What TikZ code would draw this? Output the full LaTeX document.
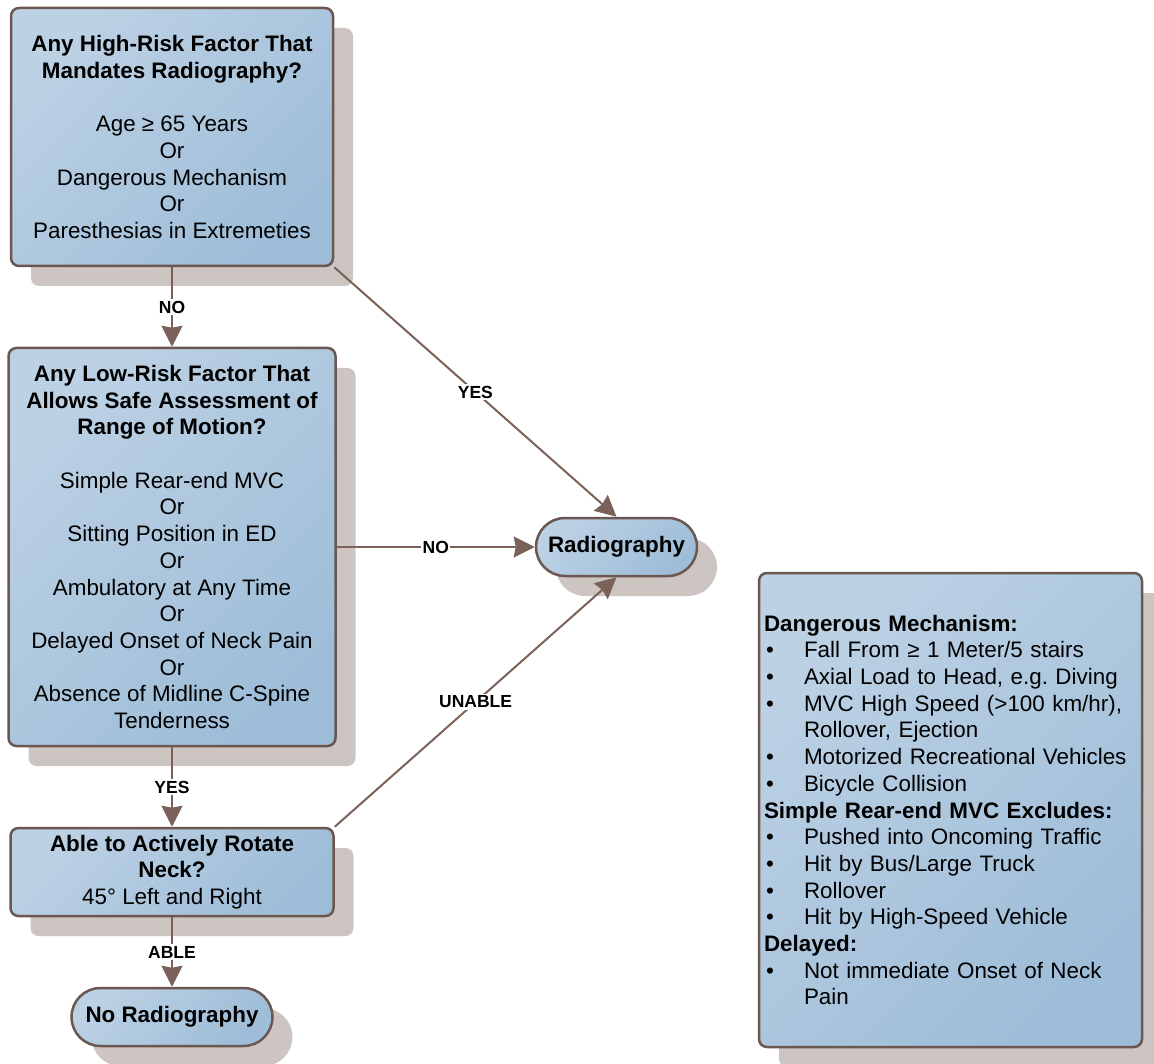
\documentclass[tikz,border=0pt]{standalone}
\usepackage{fontspec}
\setmainfont{Liberation Sans}
\usetikzlibrary{arrows.meta,shadows}
\definecolor{boxlight}{HTML}{BCD1E4}
\definecolor{boxdark}{HTML}{9EBDD8}
\definecolor{bordc}{HTML}{6B574F}
\definecolor{linec}{HTML}{7A6259}
\definecolor{shadc}{HTML}{CDC5C1}
\newcommand\bitem[1]{\makebox[40pt][l]{\hspace{2pt}•}#1}
\frenchspacing
\begin{document}
\begin{tikzpicture}[x=1pt,y=-1pt,
  base/.style={draw=bordc, line width=2.5pt, top color=boxlight, bottom color=boxdark, shading angle=45,
    drop shadow={shadow xshift=20pt, shadow yshift=-20pt, fill=shadc, opacity=1},
    font=\fontsize{22.4}{26.7}\selectfont, align=center, inner sep=4pt, text=black},
  boxq/.style={base, rectangle, rounded corners=8pt},
  pill/.style={base, rectangle, rounded corners=29pt, minimum height=58pt, font=\fontsize{22.4}{26.7}\selectfont\bfseries},
  conn/.style={draw=linec, line width=2pt, -{Stealth[length=21pt,width=21pt,inset=2pt]}},
  lab/.style={fill=white, inner sep=1.5pt, font=\fontsize{17.5}{20}\selectfont\bfseries, text=black}]
\useasboundingbox (0,0) rectangle (1154,1064);

\node[boxq, minimum width=322pt, minimum height=258pt] (b1) at (172,137)
 {\textbf{Any High-Risk Factor That}\\ \textbf{Mandates Radiography?}\\[26.7pt]
  Age ≥ 65 Years\\ Or\\ Dangerous Mechanism\\ Or\\ Paresthesias in Extremeties};

\node[boxq, minimum width=327pt, minimum height=398pt] (b2) at (172,547)
 {\textbf{Any Low-Risk Factor That}\\ \textbf{Allows Safe Assessment of}\\ \textbf{Range of Motion?}\\[26.7pt]
  Simple Rear-end MVC\\ Or\\ Sitting Position in ED\\ Or\\ Ambulatory at Any Time\\ Or\\
  Delayed Onset of Neck Pain\\ Or\\ Absence of Midline C-Spine\\ Tenderness};

\node[boxq, minimum width=323pt, minimum height=88pt] (b3) at (172,872)
 {\textbf{Able to Actively Rotate}\\ \textbf{Neck?}\\ 45° Left and Right};

\node[pill, minimum width=201pt] (norad) at (172,1017) {No Radiography};

\node[pill, minimum width=161pt] (rad) at (616.5,547) {Radiography};

\node[boxq, minimum width=383pt, minimum height=474pt, text width=373pt, align=left, inner xsep=5pt] (legend) at (950.5,810)
 {\textbf{Dangerous Mechanism:}\\
  \bitem{Fall From ≥ 1 Meter/5 stairs}\\
  \bitem{Axial Load to Head, e.g. Diving}\\
  \bitem{MVC High Speed (>100 km/hr),}\\
  \hspace*{40pt}Rollover, Ejection\\
  \bitem{Motorized Recreational Vehicles}\\
  \bitem{Bicycle Collision}\\
  \textbf{Simple Rear-end MVC Excludes:}\\
  \bitem{Pushed into Oncoming Traffic}\\
  \bitem{Hit by Bus/Large Truck}\\
  \bitem{Rollover}\\
  \bitem{Hit by High-Speed Vehicle}\\
  \textbf{Delayed:}\\
  \bitem{Not immediate Onset of Neck}\\
  \hspace*{40pt}Pain};

\draw[conn] (b1.south) -- node[lab] {NO} (b2.north);
\draw[conn] (b2.south) -- node[lab] {YES} (b3.north);
\draw[conn] (b3.south) -- node[lab] {ABLE} (norad.north);
\draw[conn] (b1.south east) -- node[lab] {YES} (rad.north);
\draw[conn] (b2.east) -- node[lab] {NO} (rad.west);
\draw[conn] (b3.north east) -- node[lab] {UNABLE} (rad.south);
\end{tikzpicture}
\end{document}
